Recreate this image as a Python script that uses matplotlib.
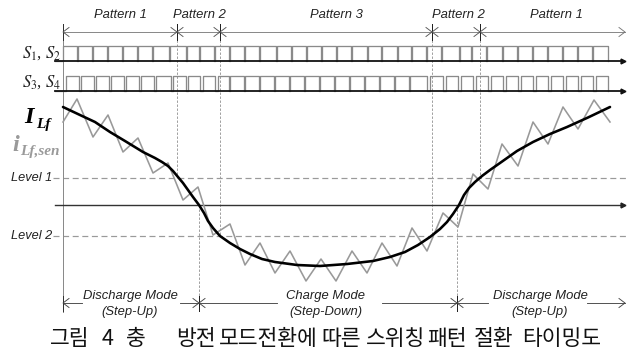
import matplotlib.pyplot as plt

plt.rcParams['mathtext.fontset'] = 'stix'

# switching pulse trains (rising / falling edges, px along the time axis)
s12_rise = [63, 78, 93, 108, 123, 138, 153, 170, 187, 200, 215, 230, 245, 260,
            277, 292, 307, 322, 337, 352, 368, 382, 398, 412, 427, 442, 460,
            472, 487, 503, 518, 533, 548, 563, 578, 593]
s12_fall = [77, 92, 107, 122, 137, 152, 169, 186, 199, 214, 229, 244, 259, 276,
            291, 306, 321, 336, 351, 367, 381, 397, 411, 426, 441, 459, 471,
            486, 502, 517, 532, 547, 562, 577, 592, 608]
s34_rise = [66, 81, 96, 111, 126, 141, 156, 173, 188, 203, 218, 230, 245, 260,
            275, 290, 305, 320, 335, 350, 365, 380, 395, 410, 430, 446, 461,
            476, 491, 506, 521, 536, 551, 566, 581, 596]
s34_fall = [79, 94, 109, 124, 139, 154, 171, 186, 200, 215, 229, 244, 259, 274,
            289, 304, 319, 334, 349, 364, 379, 394, 409, 427, 443, 458, 473,
            488, 503, 518, 533, 548, 563, 578, 593, 608]

# sensed inductor current (triangle ripple) and its average
t_sen = [63, 77, 93, 108, 123, 138, 153, 168, 183, 198, 213, 230, 245, 260,
         275, 290, 306, 321, 336, 352, 367, 382, 397, 412, 427, 443, 458,
         473, 488, 502, 518, 533, 548, 563, 578, 594, 610]
i_sen = [122, 99, 137, 115, 152, 138, 173, 163, 200, 187, 235, 224, 265, 243,
         273, 251, 281, 259, 281, 251, 273, 243, 266, 228, 251, 213, 227,
         174, 189, 144, 166, 122, 144, 107, 129, 100, 122]
t_avg = [63, 80, 95, 110, 125, 143, 155, 162, 168, 173, 178, 183, 188, 193,
         199, 204, 208, 213, 220, 230, 240, 250, 262, 275, 297, 320, 347, 373,
         390, 405, 418, 430, 440, 447, 453, 459, 464, 469, 475, 482, 490, 500,
         517, 533, 550, 567, 588, 610]
i_avg = [107, 115, 122, 132, 141, 152, 158, 162, 166, 171, 177, 183, 190, 197,
         205, 213, 221, 228, 236, 243, 249, 254, 259, 262, 265, 266, 264, 261,
         257, 252, 245, 237, 229, 222, 214, 205, 195, 188, 182, 176, 170, 163,
         151, 142, 134, 127, 117.5, 107]

zero_y = 205
level1_y = 178
level2_y = 236

# pattern changes and mode changes (px along the time axis)
pattern_x = [177, 220, 432, 480]
pattern_level = [level1_y, level2_y, level2_y, level1_y]
pattern_names = ['Pattern 1', 'Pattern 2', 'Pattern 3', 'Pattern 2', 'Pattern 1']
pattern_label_x = [120, 199, 336, 458, 556]
mode_x = [199, 457]

fig = plt.figure(figsize=(6.28, 3.49), dpi=100)
ax = fig.add_axes([0, 0, 1, 1])
ax.set_xlim(0, 628)
ax.set_ylim(349, 0)
ax.axis('off')

PX = 0.72
sans = 'Liberation Sans'
serif = 'Liberation Serif'
x0, x_end = 63, 625


def chevron(x, y, d, color, size=6, half=4.5):
    ax.plot([x - d * size, x, x - d * size], [y - half, y, y + half],
            color=color, lw=0.65)


def pulses(rise, fall, base, top):
    xs, ys = [55], [base]
    for r, f in zip(rise, fall):
        xs += [r, r, f, f]
        ys += [base, top, top, base]
    ax.plot(xs, ys, color='#8a8a8a', lw=1.3 * PX, zorder=2)
    ax.plot([55, 621], [base, base], color='#111111', lw=1.8 * PX, zorder=3)
    ax.plot([623], [base], marker='>', ms=3.5, color='#111111', zorder=3)


# left time axis
ax.plot([x0, x0], [24, 312], color='#8a8a8a', lw=1.0 * PX)

# pattern arrow on top
top_y = 32
ax.plot([x0, x_end], [top_y, top_y], color='#8a8a8a', lw=1.0 * PX)
ax.plot([x0, x0], [24, 40], color='#333333', lw=1.0 * PX)
chevron(x0, top_y, -1, '#555555')
for px_ in pattern_x:
    ax.plot([px_, px_], [24, 40], color='#222222', lw=1.0 * PX)
    chevron(px_, top_y, 1, '#555555')
    chevron(px_, top_y, -1, '#555555')
chevron(x_end, top_y, 1, '#777777')
for name, lx in zip(pattern_names, pattern_label_x):
    ax.text(lx, 15, name, ha='center', va='center', fontsize=9.4,
            family=sans, style='italic', color='#222222')

# switching signals
pulses(s12_rise, s12_fall, 61, 46)
pulses(s34_rise, s34_fall, 91, 76)
ax.text(61, 58, r'$S_1$, $S_2$', ha='right', va='baseline', fontsize=12,
        family=serif, color='#222222')
ax.text(61, 87, r'$S_3$, $S_4$', ha='right', va='baseline', fontsize=12,
        family=serif, color='#222222')

# vertical dashed guides
for px_, ly in zip(pattern_x, pattern_level):
    ax.plot([px_, px_], [top_y, ly], color='#8a8a8a', lw=0.8 * PX,
            dashes=(3, 2), zorder=1)
for mx in mode_x:
    ax.plot([mx, mx], [zero_y, 303], color='#8a8a8a', lw=0.8 * PX,
            dashes=(3, 2), zorder=1)

# current levels and zero axis
for ly, name in [(level1_y, 'Level 1'), (level2_y, 'Level 2')]:
    ax.plot([53, 628], [ly, ly], color='#9a9a9a', lw=1.2 * PX, dashes=(5, 3),
            zorder=1)
    ax.text(52, ly, name, ha='right', va='center', fontsize=9.2, family=sans,
            style='italic', color='#222222')
ax.plot([55, 621], [zero_y, zero_y], color='#333333', lw=1.4 * PX, zorder=2)
ax.plot([623], [zero_y], marker='>', ms=3.5, color='#222222', zorder=3)

# inductor currents
ax.plot(t_sen, i_sen, color='#999999', lw=1.6 * PX, zorder=3)
ax.plot(t_avg, i_avg, color='#000000', lw=2.6 * PX, zorder=4,
        solid_capstyle='round', solid_joinstyle='round')

ax.text(24, 123, 'I', fontsize=17.5, family=serif, style='italic',
        weight='bold', color='#000000', va='baseline')
ax.text(36, 128, 'Lf', fontsize=11, family=serif, style='italic',
        weight='bold', color='#000000', va='baseline')
ax.text(12, 151, 'i', fontsize=17.5, family=serif, style='italic',
        weight='bold', color='#9a9a9a', va='baseline')
ax.text(20, 155, 'Lf,sen', fontsize=11, family=serif, style='italic',
        weight='bold', color='#9a9a9a', va='baseline')

# operating mode arrow at the bottom
mode_y = 303
for a, b in [(x0, 82), (180, 277), (382, 488), (587, x_end)]:
    ax.plot([a, b], [mode_y, mode_y], color='#444444', lw=0.9 * PX)
ax.plot([x0, x0], [296, 311], color='#333333', lw=1.0 * PX)
chevron(x0, mode_y, -1, '#444444')
for mx in mode_x:
    ax.plot([mx, mx], [296, 311], color='#222222', lw=1.0 * PX)
    chevron(mx, mode_y, 1, '#444444')
    chevron(mx, mode_y, -1, '#444444')
chevron(x_end, mode_y, 1, '#444444')
for cx, l1, l2 in [(130, 'Discharge Mode', '(Step-Up)'),
                   (326, 'Charge Mode', '(Step-Down)'),
                   (540, 'Discharge Mode', '(Step-Up)')]:
    ax.text(cx, 296, l1, ha='center', va='center', fontsize=9.4, family=sans,
            style='italic', color='#222222')
    ax.text(cx, 312, l2, ha='center', va='center', fontsize=9.4, family=sans,
            style='italic', color='#222222')

# caption
kr = ['Noto Sans CJK KR', 'DejaVu Sans']
for wx, word in [(50, '그림'), (102, '4'), (126, '충'), (176, '방전'),
                 (219, '모드전환에'), (321, '따른'), (366, '스위칭'),
                 (427, '패턴'), (474, '절환'), (522, '타이밍도')]:
    ax.text(wx, 339, word, ha='left', va='center', fontsize=15.5, family=kr,
            color='#111111')

fig.savefig('out.png', dpi=100)
